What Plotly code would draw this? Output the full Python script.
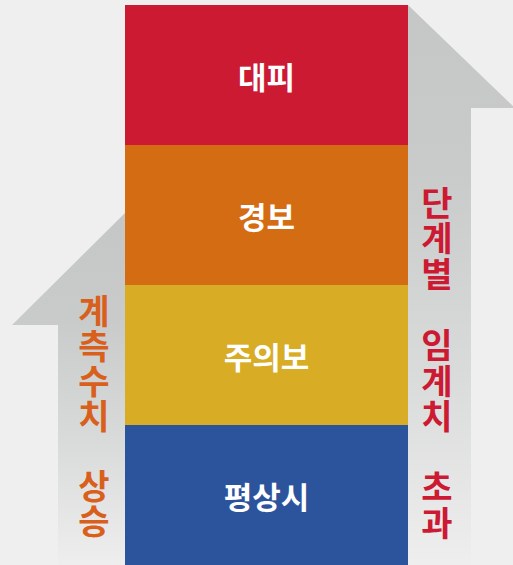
import plotly.graph_objects as go

# ---- data ----
levels = ["평상시", "주의보", "경보", "대피"]          # bottom -> top
level_values = [140, 140, 140, 140]
level_colors = ["#2c549c", "#d8ac24", "#d46c14", "#cc1a33"]

left_label = ["계", "측", "수", "치", "", "상", "승"]
right_label = ["단", "계", "별", "", "임", "계", "치", "", "초", "과"]

BG = "#efefef"
FONT = "Noto Sans CJK KR"
W, H = 513, 565

fig = go.Figure()

# arrows (pixel geometry converted to data units: y_data = H - y_px)
def arrow(xs, ys_px):
    ys = [H - v for v in ys_px]
    return go.Scatter(
        x=xs + [xs[0]], y=ys + [ys[0]], mode="lines", fill="toself",
        line=dict(width=0, color="rgba(0,0,0,0)"),
        fillgradient=dict(type="vertical", start=0, stop=max(ys),
                          colorscale=[[0, "#eeeeee"], [0.35, "#d9dada"], [0.7, "#c9cbcb"], [1, "#c5c7c7"]]),
        hoverinfo="skip", showlegend=False)

fig.add_trace(arrow([125, 12, 58, 58, 125], [213, 325, 325, 565, 565]))
fig.add_trace(arrow([408, 515, 471, 471, 408], [5, 108, 108, 565, 565]))

# stacked bars
for name, val, col in zip(levels, level_values, level_colors):
    fig.add_trace(go.Bar(
        x=[266.5], y=[val], width=[283], name=name,
        marker=dict(color=col, line=dict(width=0)),
        text=[f"<b>{name}</b>"], textposition="inside", insidetextanchor="middle",
        textangle=0, textfont=dict(family=FONT, size=31, color="white"),
        hoverinfo="skip", showlegend=False))

# vertical texts
def vtext(chars, x, y0_px, step, color):
    xs, ys, ts = [], [], []
    for i, c in enumerate(chars):
        if c:
            xs.append(x)
            ys.append(H - (y0_px + i * step))
            ts.append(f"<b>{c}</b>")
    return go.Scatter(x=xs, y=ys, text=ts, mode="text", textposition="middle center",
                      textfont=dict(family=FONT, size=34, color=color),
                      hoverinfo="skip", showlegend=False)

fig.add_trace(vtext(left_label, 94, 315, 35, "#d9601c"))
fig.add_trace(vtext(right_label, 437, 207, 35.6, "#cc1a33"))

fig.update_layout(
    width=W, height=H, margin=dict(l=0, r=0, t=0, b=0),
    paper_bgcolor=BG, plot_bgcolor=BG, barmode="stack", bargap=0,
    xaxis=dict(range=[0, W], visible=False, fixedrange=True),
    yaxis=dict(range=[0, H], visible=False, fixedrange=True),
)

fig.write_html("out.html", config={"displayModeBar": False},
               post_script="document.body.style.margin='0';document.body.style.overflow='hidden';")
